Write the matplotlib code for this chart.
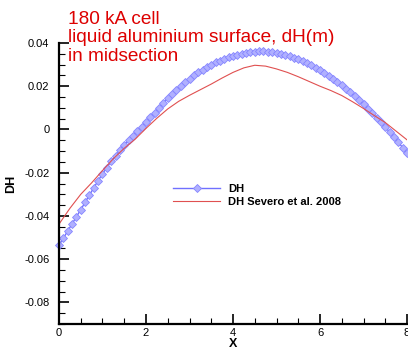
import numpy as np
import matplotlib
matplotlib.use("Agg")
import matplotlib.pyplot as plt
from matplotlib.ticker import MultipleLocator

plt.rcParams['font.family'] = ['Liberation Sans', 'DejaVu Sans']

# DH curve (computed), step 0.1
x_dh = np.round(np.arange(0, 8.01, 0.1), 2)
dh = [-0.0535, -0.0503, -0.0470, -0.0437, -0.0404, -0.0371, -0.0337, -0.0303,
      -0.0270, -0.0237, -0.0205, -0.0176, -0.0148, -0.0121, -0.0096, -0.0072,
      -0.0050, -0.0028, -0.0007, 0.0013, 0.0034, 0.0056, 0.0078, 0.0100,
      0.0122, 0.0144, 0.0164, 0.0184, 0.0202, 0.0219, 0.0235, 0.0250,
      0.0264, 0.0277, 0.0289, 0.0300, 0.0310, 0.0319, 0.0327, 0.0334,
      0.0340, 0.0346, 0.0351, 0.0355, 0.0358, 0.0360, 0.0361, 0.0361,
      0.0360, 0.0358, 0.0354, 0.0349, 0.0344, 0.0338, 0.0331, 0.0324,
      0.0315, 0.0306, 0.0296, 0.0285, 0.0273, 0.0261, 0.0248, 0.0234,
      0.0219, 0.0204, 0.0188, 0.0171, 0.0153, 0.0135, 0.0116, 0.0096,
      0.0076, 0.0055, 0.0033, 0.0011, -0.0012, -0.0035, -0.0059, -0.0084,
      -0.0110]

# DH Severo et al. 2008
x_sev = [0.0, 0.25, 0.5, 0.75, 1.0, 1.25, 1.5, 1.75, 2.0, 2.25, 2.5, 2.75,
         3.0, 3.25, 3.5, 3.75, 4.0, 4.25, 4.5, 4.75, 5.0, 5.25, 5.5, 5.75,
         6.0, 6.25, 6.5, 6.75, 7.0, 7.25, 7.5, 7.75, 8.0]
dh_sev = [-0.0438, -0.0365, -0.0300, -0.0247, -0.0190, -0.0135, -0.0087,
          -0.0045, 0.0005, 0.0052, 0.0095, 0.0130, 0.0158, 0.0184, 0.0210,
          0.0238, 0.0264, 0.0285, 0.0297, 0.0293, 0.0280, 0.0264, 0.0244,
          0.0222, 0.0200, 0.0180, 0.0157, 0.0128, 0.0097, 0.0064, 0.0032,
          -0.0008, -0.0048]

fig = plt.figure(figsize=(4.08, 3.49), dpi=100)
ax = fig.add_axes([0.1446, 0.0716, 0.853, 0.8052])

ax.plot(x_dh, dh, color='#7070ff', lw=1.0, marker='D', ms=3.6,
        mfc='#b0b0ff', mec='#8585ff', mew=0.6, label='DH', clip_on=False)
ax.plot(x_sev, dh_sev, color='#e05050', lw=0.8, label='DH Severo et al. 2008')

ax.set_xlim(0, 8)
ax.set_ylim(-0.09, 0.04)
ax.xaxis.set_major_locator(MultipleLocator(2))
ax.xaxis.set_minor_locator(MultipleLocator(0.5))
ax.yaxis.set_minor_locator(MultipleLocator(0.005))
ax.set_yticks([0.04, 0.02, 0, -0.02, -0.04, -0.06, -0.08])
ax.set_yticklabels(['0.04', '0.02', '0', '-0.02', '-0.04', '-0.06', '-0.08'])
ax.tick_params(which='both', direction='in', labelsize=8, width=1.2)
ax.tick_params(which='major', length=7)
ax.tick_params(which='minor', length=4, width=0.8)
ax.tick_params(axis='y', pad=7)
ax.tick_params(axis='x', pad=3)
ax.spines['top'].set_visible(False)
ax.spines['right'].set_visible(False)
ax.spines['left'].set_linewidth(1.6)
ax.spines['bottom'].set_linewidth(1.6)

ax.set_xlabel('X', fontsize=9, fontweight='bold', labelpad=0)
ax.set_ylabel('DH', fontsize=9, fontweight='bold', labelpad=5)

ax.legend(loc='upper left', bbox_to_anchor=(0.30, 0.535), frameon=False,
          prop={'size': 8, 'weight': 'bold'}, handlelength=4.2, numpoints=1,
          handletextpad=0.7, labelspacing=0.3)

fig.text(0.167, 0.968, '180 kA cell\nliquid aluminium surface, dH(m)\nin midsection',
         color='#dd0000', fontsize=13.7, va='top', ha='left', linespacing=1.1)

fig.savefig('out.png', dpi=100)
